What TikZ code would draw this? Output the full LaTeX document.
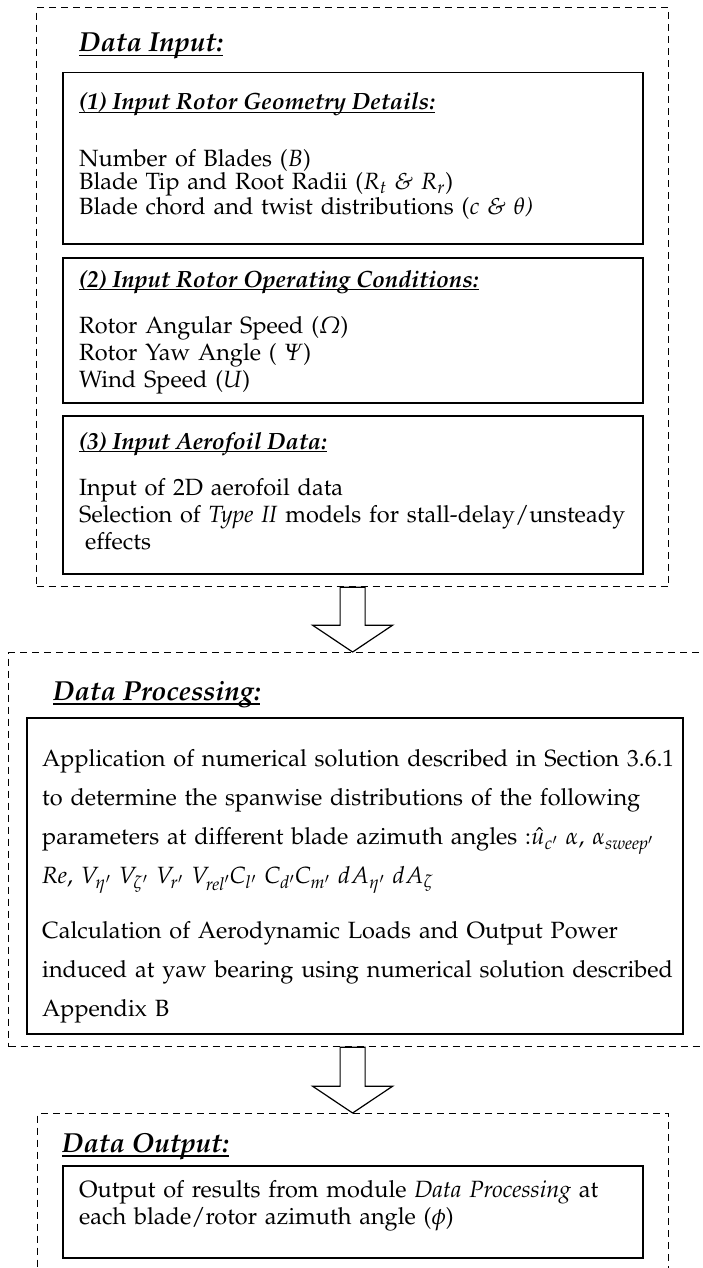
\documentclass[tikz,border=0pt]{standalone}
\usepackage[T1]{fontenc}
\usepackage[slantedGreek]{mathpazo}
\usetikzlibrary{calc}

% underline a piece of text at a given depth below its baseline
\newcommand{\ulined}[2][3pt]{\setbox0=\hbox{#2}\rlap{\rule[-#1]{\wd0}{1.4pt}}\box0}
% keep baselines at a fixed distance even with sub- and superscripts
\setlength{\lineskiplimit}{-100pt}

\tikzset{
  outerbox/.style={draw, dash pattern=on 7pt off 5pt, line width=1.2pt, inner sep=0pt},
  innerbox/.style={draw, line width=1.5pt, inner sep=0pt, anchor=north west},
  % a block of left-aligned lines with a fixed distance between baselines
  boxtext/.style={anchor=base west, inner sep=0pt, align=left, text width=690pt,
    font=\fontsize{23.5}{#1}\selectfont},
  boxtext/.default=27pt,
  heading/.style={anchor=base west, inner sep=0pt, font=\fontsize{23.5}{28}\selectfont\bfseries\itshape},
  title/.style={anchor=base west, inner sep=0pt, font=\fontsize{27.5}{32}\selectfont\bfseries\itshape},
  blockarrow/.style={draw, fill=white, line width=1.2pt, line join=miter},
}

\begin{document}
\begin{tikzpicture}[x=1pt, y=-1pt]
\useasboundingbox (0,0) rectangle (702,1268);
\clip (0,0) rectangle (702,1268);

% ---------------- Data input module ----------------
\node[outerbox, anchor=north west, minimum width=632pt, minimum height=579pt] (inp) at (36,7) {};
\node[title] (tin) at (79,52) {\ulined[4.5pt]{Data Input:}};

\node[innerbox, minimum width=580pt, minimum height=171pt] (g1) at (62,72) {};
\node[heading] (h1) at (79,110) {\ulined{(1) Input Rotor Geometry Details:}};
\node[boxtext=23pt] (g1t) at (79,167) {Number of Blades ($B$)\\
  Blade Tip and Root Radii ($R_t$ \textit{\&} $R_r$)\\
  Blade chord and twist distributions ($c$ \textit{\& $\theta$)}};

\node[innerbox, minimum width=580pt, minimum height=145pt] (g2) at (62,257) {};
\node[heading] (h2) at (79,287) {\ulined{(2) Input Rotor Operating Conditions:}};
\node[boxtext] (g2t) at (79,333) {Rotor Angular Speed ($\Omega$)\\
  Rotor Yaw Angle ( $\Psi$)\\
  Wind Speed ($U$)};

\node[innerbox, minimum width=580pt, minimum height=158pt] (g3) at (62,415) {};
\node[heading] (h3) at (79,449) {\ulined{(3) Input Aerofoil Data:}};
\node[boxtext] (g3t) at (79,495) {Input of 2D aerofoil data\\
  Selection of \textit{Type II} models for stall-delay/unsteady\\
  \hspace*{6pt}effects};

% ---------------- Data processing module ----------------
\node[outerbox, anchor=north west, minimum width=712pt, minimum height=394pt] (proc) at (8,652) {};
\node[title] (tproc) at (53,700) {\ulined[4.5pt]{Data Processing:}};

\node[innerbox, minimum width=656pt, minimum height=316pt] (pbox) at (26,717) {};
\node[boxtext=39pt] (pt) at (42,766) {Application of numerical solution described in Section 3.6.1\\
  to determine the spanwise distributions of the following\\
  parameters at different blade azimuth angles :$\hat{u}_{c'}$ $\alpha$, $\alpha_{\mathit{sweep}'}$\\
  $\mathit{Re}$, $V_{\eta'}$ $V_{\zeta'}$ $V_{r'}$ $V_{\mathit{rel}'}C_{l'}$ $C_{d'}C_{m'}$ $dA_{\eta'}$ $dA_{\zeta}$\\[16pt]
  Calculation of Aerodynamic Loads and Output Power\\
  induced at yaw bearing using numerical solution described\\
  Appendix B};

% ---------------- Data output module ----------------
\node[outerbox, anchor=north west, minimum width=631pt, minimum height=200pt] (outp) at (37,1113) {};
\node[title] (tout) at (62,1152) {\ulined[4.5pt]{Data Output:}};

\node[innerbox, minimum width=580pt, minimum height=92pt] (obox) at (62,1165) {};
\node[boxtext] (ot) at (79,1197) {Output of results from module \textit{Data Processing} at\\
  each blade/rotor azimuth angle ($\phi$)};

% ---------------- block arrows between modules ----------------
\coordinate (a1s) at (inp.south);
\coordinate (a1t) at (inp.south |- proc.north);
\draw[blockarrow] ($(a1s)+(-12.5,0)$) -- ($(a1s)+(-12.5,38)$) -- ($(a1s)+(-40,38)$)
  -- (a1t) -- ($(a1s)+(40,38)$) -- ($(a1s)+(12.5,38)$) -- ($(a1s)+(12.5,0)$) -- cycle;

\coordinate (a2s) at (inp.south |- proc.south);
\coordinate (a2t) at (inp.south |- outp.north);
\draw[blockarrow] ($(a2s)+(-12.5,0)$) -- ($(a2s)+(-12.5,39)$) -- ($(a2s)+(-40,39)$)
  -- (a2t) -- ($(a2s)+(40,39)$) -- ($(a2s)+(12.5,39)$) -- ($(a2s)+(12.5,0)$) -- cycle;
\end{tikzpicture}
\end{document}
